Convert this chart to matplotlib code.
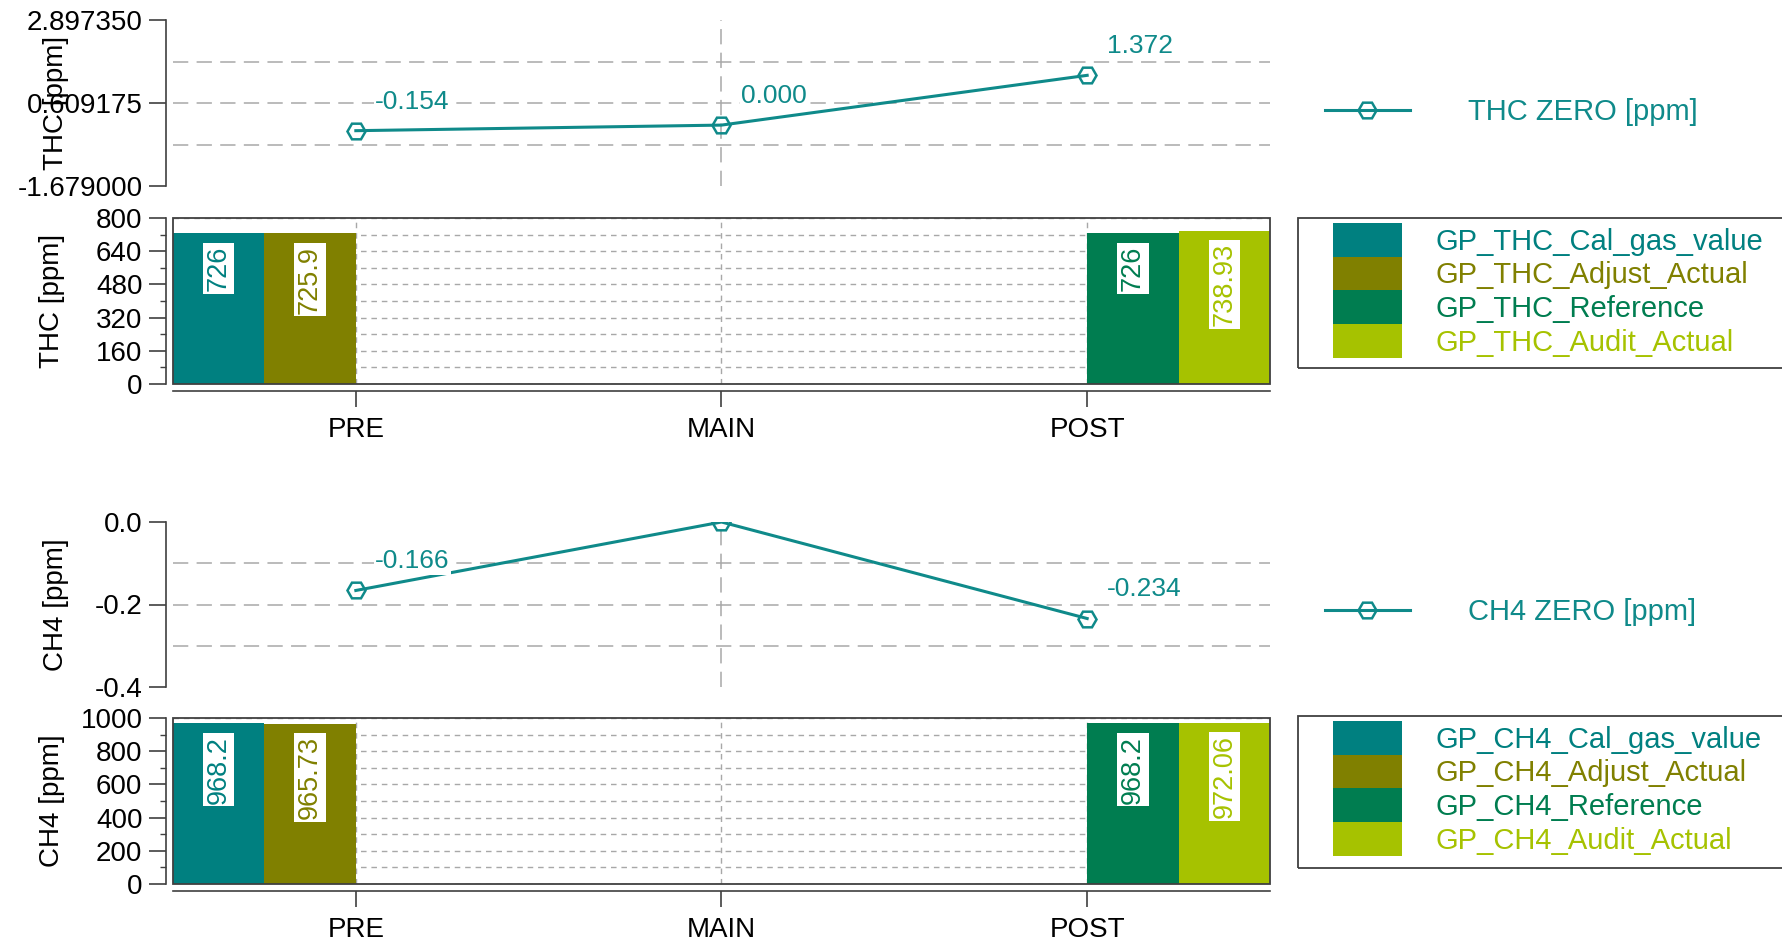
import numpy as np
import matplotlib.pyplot as plt
from matplotlib.patches import Rectangle
from matplotlib.ticker import MultipleLocator, FormatStrFormatter

plt.rcParams['font.family'] = ['Liberation Sans', 'DejaVu Sans']
plt.rcParams['lines.scale_dashes'] = False

W, H = 1783, 941

stages = ['PRE', 'MAIN', 'POST']

# zero checks
thc_zero = [-0.154, 0.000, 1.372]
ch4_zero = [-0.166, 0.000, -0.234]

# span gas bars (nan = no bar at that stage)
nan = np.nan
thc_series = ['GP_THC_Cal_gas_value', 'GP_THC_Adjust_Actual',
              'GP_THC_Reference', 'GP_THC_Audit_Actual']
thc_cal = [726, nan, nan]
thc_adjust = [725.9, nan, nan]
thc_ref = [nan, nan, 726]
thc_audit = [nan, nan, 738.93]

ch4_series = ['GP_CH4_Cal_gas_value', 'GP_CH4_Adjust_Actual',
              'GP_CH4_Reference', 'GP_CH4_Audit_Actual']
ch4_cal = [968.2, nan, nan]
ch4_adjust = [965.73, nan, nan]
ch4_ref = [nan, nan, 968.2]
ch4_audit = [nan, nan, 972.06]

line_color = '#0f8a8a'
bar_colors = ['#008080', '#808000', '#007d50', '#a6c200']
spine_color = '#404040'
grid_color = '#a8a8a8'

fig = plt.figure(figsize=(W / 100, H / 100), dpi=100)


def fig_axes(x0, y0, x1, y1):
    return fig.add_axes([x0 / W, 1 - y1 / H, (x1 - x0) / W, (y1 - y0) / H])


def style_left(ax):
    ax.spines['left'].set_position(('outward', 5))
    ax.spines['left'].set_color(spine_color)
    ax.spines['left'].set_linewidth(1.2)
    ax.tick_params(axis='y', which='major', length=12, width=1.2, pad=5,
                   labelsize=20, color=spine_color)
    ax.tick_params(axis='y', which='minor', length=4.5, width=1.0,
                   color=spine_color)


def line_panel(ax, values, label, ylim, fmt, ylabel, leg_y):
    ax.set_xlim(-0.5, 2.5)
    ax.set_ylim(*ylim)
    lo, hi = ylim
    ax.set_yticks([lo, (lo + hi) / 2, hi])
    ax.yaxis.set_major_formatter(FormatStrFormatter(fmt))
    for f in (0.25, 0.5, 0.75):
        ax.axhline(lo + (hi - lo) * f, color=grid_color, lw=1.1,
                   ls=(0, (11, 6)), zorder=0)
    ax.axvline(1, color=grid_color, lw=1.1, ls=(0, (11, 6)), zorder=0)
    for s in ('top', 'right', 'bottom'):
        ax.spines[s].set_visible(False)
    style_left(ax)
    ax.set_xticks([])
    line, = ax.plot(range(len(stages)), values, color=line_color, lw=2.2,
                    marker='H', markersize=13, markerfacecolor='none',
                    markeredgewidth=1.8, label=label, zorder=3)
    for i, v in enumerate(values):
        ax.annotate(f'{v:.3f}', xy=(i, v), xytext=(14, 21),
                    textcoords='offset points', ha='left', va='center',
                    fontsize=19, color=line_color, clip_on=True,
                    annotation_clip=False,
                    bbox=dict(boxstyle='square,pad=0.05', fc='white',
                              ec='none'), zorder=4)
    ax.set_ylabel(ylabel, fontsize=20)
    ax.yaxis.set_label_coords(-0.095, 0.5)
    ax.legend(handles=[line], loc='center left',
              bbox_to_anchor=(1325 / W, 1 - leg_y / H),
              bbox_transform=fig.transFigure, frameon=False, fontsize=21,
              handlelength=2.9, handletextpad=2.0, borderpad=0,
              borderaxespad=0, numpoints=1, labelcolor=line_color)


def bar_panel(ax, series, names, ylim, major, minor, ylabel, leg_top, leg_bottom):
    ax.set_xlim(-0.5, 2.5)
    ax.set_ylim(*ylim)
    x = np.arange(len(stages))
    handles = []
    for k, (vals, c) in enumerate(zip(series, bar_colors)):
        pos = x + (k - 1.5) * 0.25
        b = ax.bar(pos, vals, width=0.25, color=c, edgecolor='none', zorder=2)
        handles.append(b)
        for p, v in zip(pos, vals):
            if np.isfinite(v):
                ax.annotate(f'{v:g}', xy=(p, v), xytext=(0, -9),
                            textcoords='offset points', rotation=90,
                            ha='center', va='top', fontsize=19.5, color=c,
                            bbox=dict(boxstyle='square,pad=0.1', fc='white',
                                      ec='none'), zorder=4)
    ax.yaxis.set_major_locator(MultipleLocator(major))
    ax.yaxis.set_minor_locator(MultipleLocator(minor))
    ax.set_axisbelow(True)
    ax.grid(axis='y', which='both', color=grid_color, lw=1.0, ls=(0, (4, 3.5)))
    ax.grid(axis='x', which='major', color=grid_color, lw=1.0, ls=(0, (4, 3.5)))
    ax.set_xticks(x)
    ax.set_xticklabels(stages)
    ax.spines['top'].set_visible(False)
    ax.spines['right'].set_visible(False)
    ax.spines['bottom'].set_position(('outward', 5))
    ax.spines['bottom'].set_color(spine_color)
    ax.spines['bottom'].set_linewidth(1.2)
    ax.tick_params(axis='x', length=11.5, width=1.2, pad=7, labelsize=20,
                   color=spine_color)
    style_left(ax)
    ax.add_patch(Rectangle((0, 0), 1, 1, transform=ax.transAxes, fill=False,
                           ec=spine_color, lw=1.3, clip_on=False, zorder=6))
    ax.set_ylabel(ylabel, fontsize=20)
    ax.yaxis.set_label_coords(-0.098, 0.5)
    leg = ax.legend(handles=handles, labels=names, loc='upper left',
                    bbox_to_anchor=(1333 / W, 1 - (leg_top + 5) / H),
                    bbox_transform=fig.transFigure, frameon=False, fontsize=21,
                    handlelength=2.36, handleheight=1.4, labelspacing=0,
                    handletextpad=1.16, borderpad=0, borderaxespad=0)
    for t, c in zip(leg.get_texts(), bar_colors):
        t.set_color(c)
    fig.add_artist(Rectangle((1298 / W, 1 - leg_bottom / H), 0.3,
                             (leg_bottom - leg_top) / H,
                             transform=fig.transFigure, fill=False,
                             ec=spine_color, lw=1.3))


ax1 = fig_axes(173, 20, 1270, 186)
line_panel(ax1, thc_zero, 'THC ZERO [ppm]', (-1.679, 2.89735), '%.6f',
           'THC [ppm]', 112)

ax2 = fig_axes(173, 218, 1270, 384)
bar_panel(ax2, [thc_cal, thc_adjust, thc_ref, thc_audit], thc_series,
          (0, 800), 160, 80, 'THC [ppm]', 218, 368)

ax3 = fig_axes(173, 522, 1270, 687)
line_panel(ax3, ch4_zero, 'CH4 ZERO [ppm]', (-0.4, 0.0), '%.1f',
           'CH4 [ppm]', 612)

ax4 = fig_axes(173, 718, 1270, 884)
bar_panel(ax4, [ch4_cal, ch4_adjust, ch4_ref, ch4_audit], ch4_series,
          (0, 1000), 200, 100, 'CH4 [ppm]', 716, 868)

fig.savefig('out.png', dpi=100)
